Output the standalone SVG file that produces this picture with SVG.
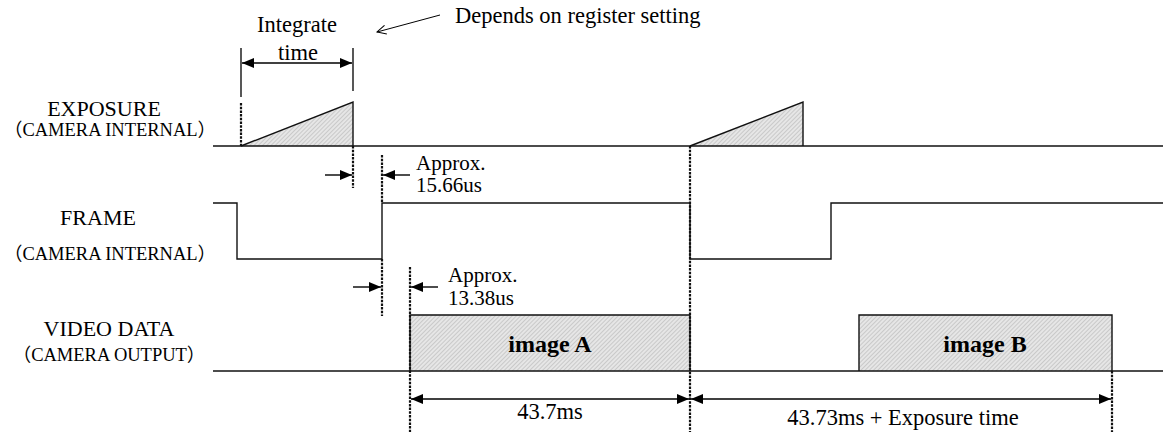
<svg xmlns="http://www.w3.org/2000/svg" width="1163" height="432" viewBox="0 0 1163 432">
<style>
.t{font-family:"Liberation Serif","Times New Roman","Noto Sans CJK JP",serif;fill:#000}
.lab{font-size:22px;text-anchor:middle}
.sub{font-size:18.5px;text-anchor:middle}
.note{font-size:22.5px}
.ap{font-size:21px}
.img{font-size:24px;font-weight:bold;text-anchor:middle}
.sig{fill:none;stroke:#111;stroke-width:1.4}
.dot{fill:none;stroke:#111;stroke-width:2.2;stroke-dasharray:2.5 1.2}
.dim{fill:none;stroke:#000;stroke-width:1.4}
.hatch{fill:url(#hp)}
</style>
<defs>
<pattern id="hp" width="3" height="3" patternUnits="userSpaceOnUse" patternTransform="rotate(45)">
<rect width="3" height="3" fill="#e6e6e6"/>
<line x1="0" y1="0" x2="0" y2="3" stroke="#acacac" stroke-width="1"/>
</pattern>
<marker id="ah" viewBox="0 0 12 10" refX="12" refY="5" markerWidth="12" markerHeight="10" markerUnits="userSpaceOnUse" orient="auto-start-reverse">
<path d="M0,0 L12,5 L0,10 z" fill="#000"/>
</marker>
<marker id="open" viewBox="0 0 10 10" refX="9" refY="5" markerWidth="10" markerHeight="10" markerUnits="userSpaceOnUse" orient="auto">
<path d="M0,0.5 L9,5 L0,9.5" fill="none" stroke="#000" stroke-width="1"/>
</marker>
</defs>
<rect width="1163" height="432" fill="#fff"/>

<g id="labels">
<text class="t lab" x="104" y="116">EXPOSURE</text>
<text class="t sub" x="110" y="136">（CAMERA INTERNAL）</text>
<text class="t lab" x="98" y="225">FRAME</text>
<text class="t sub" x="110" y="260">（CAMERA INTERNAL）</text>
<text class="t lab" x="109" y="336">VIDEO DATA</text>
<text class="t sub" x="109" y="361">（CAMERA OUTPUT）</text>
</g>

<g id="exposure">
<path class="hatch" d="M241,146 L353,102 L353,146 Z"/>
<path class="hatch" d="M690,146 L803,102 L803,146 Z"/>
<path class="sig" d="M213,146 H1163"/>
<path class="sig" d="M241,146 L353,102 V146"/>
<path class="sig" d="M690,146 L803,102 V146"/>
</g>

<g id="frame">
<path class="sig" d="M213,203 H237 V259 H382 V203 H690 V259 H831 V203 H1163"/>
</g>

<g id="video">
<rect class="hatch" x="410" y="315" width="280" height="56"/>
<rect class="hatch" x="859" y="315" width="253" height="56"/>
<path class="sig" d="M410,371 V315 H690 V371"/>
<path class="sig" d="M859,371 V315 H1112 V371"/>
<path class="sig" d="M213,371 H1163"/>
<text class="t img" x="550" y="352">image A</text>
<text class="t img" x="985" y="352">image B</text>
</g>

<g id="connectors">
<path class="dot" d="M241,103 V146"/>
<path class="dot" d="M353,146 V188"/>
<path class="dot" d="M382,155 V203"/>
<path class="dot" d="M382,259 V316"/>
<path class="dot" d="M410,267 V432"/>
<path class="dot" d="M690,146 V432"/>
<path class="dot" d="M1112,371 V432"/>

<path class="sig" d="M241,48 V97"/>
<path class="sig" d="M353,48 V91"/>
<path class="dim" d="M242,63 H352" marker-start="url(#ah)" marker-end="url(#ah)"/>

<path class="dim" d="M325,175 H352" marker-end="url(#ah)"/>
<path class="dim" d="M410,175 H383" marker-end="url(#ah)"/>
<path class="dim" d="M353,287 H381" marker-end="url(#ah)"/>
<path class="dim" d="M438,287 H411" marker-end="url(#ah)"/>

<path class="dim" d="M411,399 H689" marker-start="url(#ah)" marker-end="url(#ah)"/>
<path class="dim" d="M691,399 H1111" marker-start="url(#ah)" marker-end="url(#ah)"/>

<path d="M440,15 L377,32" fill="none" stroke="#000" stroke-width="1" marker-end="url(#open)"/>
</g>

<g id="notes">
<text class="t note" x="297" y="32" text-anchor="middle">Integrate</text>
<text class="t note" x="298" y="60" text-anchor="middle">time</text>
<text class="t note" x="455" y="23">Depends on register setting</text>
<text class="t ap" x="416" y="170">Approx.</text>
<text class="t ap" x="416" y="192">15.66us</text>
<text class="t ap" x="448" y="282">Approx.</text>
<text class="t ap" x="448" y="305">13.38us</text>
<text class="t note" x="550" y="419" text-anchor="middle">43.7ms</text>
<text class="t note" x="903" y="425" text-anchor="middle">43.73ms + Exposure time</text>
</g>
</svg>
